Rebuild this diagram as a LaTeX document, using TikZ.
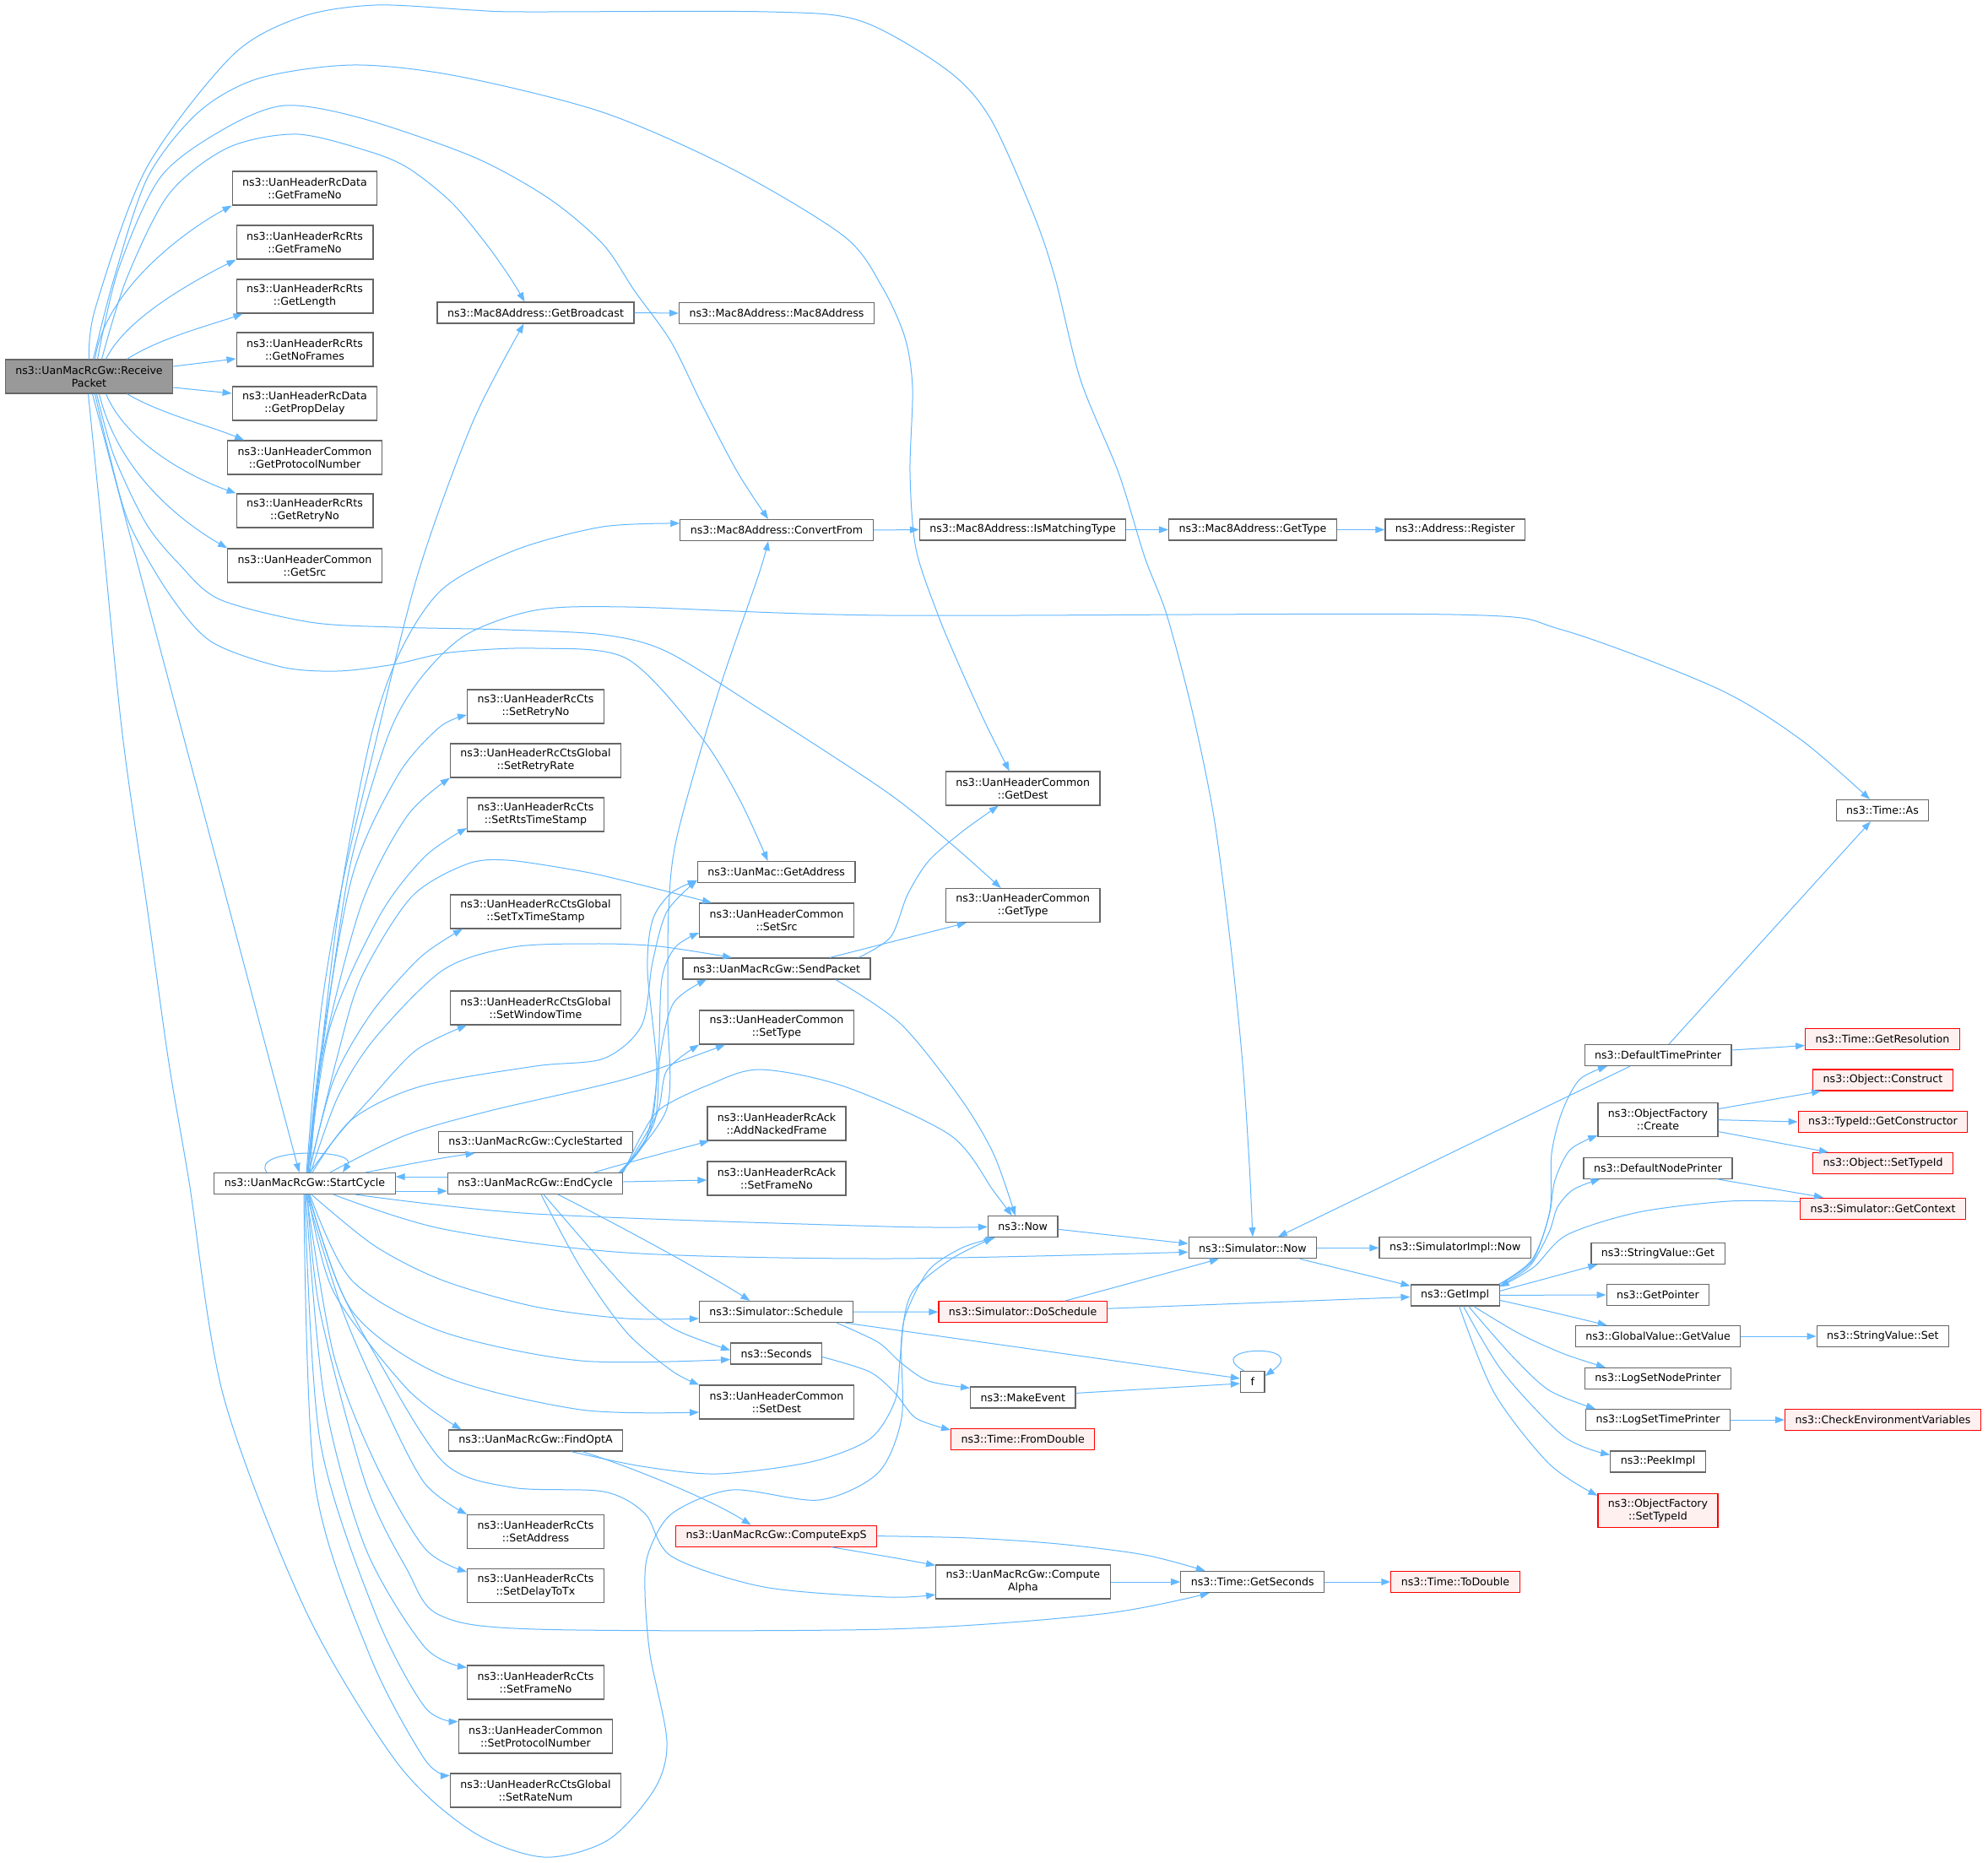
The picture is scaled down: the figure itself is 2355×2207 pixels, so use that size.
\documentclass[tikz,border=0pt]{standalone}
\usepackage{fontspec}
\setmainfont{DejaVu Sans}
\usetikzlibrary{arrows.meta}
\definecolor{edgeblue}{HTML}{63B8FF}
\definecolor{boxgrey}{HTML}{666666}
\definecolor{rootgrey}{HTML}{999999}
\definecolor{missfill}{HTML}{FFF0F0}

\begin{document}
\begin{tikzpicture}[x=1pt, y=-1pt,
    fn/.style={draw=boxgrey, line width=1.2pt, fill=white, inner xsep=12pt, inner ysep=0pt,
      minimum height=25pt, align=center, font=\fontsize{12.6}{15}\selectfont},
    fn2/.style={fn, minimum height=40pt},
    miss/.style={draw=red, fill=missfill},
    root/.style={fn2, fill=rootgrey},
    edge/.style={draw=edgeblue, line width=1pt, -{Triangle[length=11pt, width=8pt]}}]
\fill[white] (0,0) rectangle (2355,2207);
\path[use as bounding box] (0,0) rectangle (2355,2207);

\node[root] (recv) at (105.5,446) {ns3::UanMacRcGw::Receive\\Packet};
\node[fn2] (dfn) at (361,223) {ns3::UanHeaderRcData\\::GetFrameNo};
\node[fn2] (rfn) at (361,287) {ns3::UanHeaderRcRts\\::GetFrameNo};
\node[fn2] (rlen) at (361,351) {ns3::UanHeaderRcRts\\::GetLength};
\node[fn2] (rnof) at (361,414) {ns3::UanHeaderRcRts\\::GetNoFrames};
\node[fn2] (dpd) at (361,478) {ns3::UanHeaderRcData\\::GetPropDelay};
\node[fn2] (cpn) at (361,542) {ns3::UanHeaderCommon\\::GetProtocolNumber};
\node[fn2] (rrn) at (361,605) {ns3::UanHeaderRcRts\\::GetRetryNo};
\node[fn2] (csrc) at (361,670) {ns3::UanHeaderCommon\\::GetSrc};
\node[fn] (bcast) at (634.5,370.5) {ns3::Mac8Address::GetBroadcast};
\node[fn] (m8) at (920,371) {ns3::Mac8Address::Mac8Address};
\node[fn] (conv) at (920,628) {ns3::Mac8Address::ConvertFrom};
\node[fn] (match) at (1211.6,627.5) {ns3::Mac8Address::IsMatchingType};
\node[fn] (gtype) at (1483.9,627.5) {ns3::Mac8Address::GetType};
\node[fn] (reg) at (1723.7,627.5) {ns3::Address::Register};
\node[fn2] (gdest) at (1211.7,934) {ns3::UanHeaderCommon\\::GetDest};
\node[fn2] (gtyp) at (1211.7,1072.6) {ns3::UanHeaderCommon\\::GetType};
\node[fn] (tas) at (2230,960) {ns3::Time::As};
\node[fn2] (srn) at (634.5,837) {ns3::UanHeaderRcCts\\::SetRetryNo};
\node[fn2] (srr) at (634.5,901) {ns3::UanHeaderRcCtsGlobal\\::SetRetryRate};
\node[fn2] (srts) at (634.5,965) {ns3::UanHeaderRcCts\\::SetRtsTimeStamp};
\node[fn2] (stx) at (634.5,1080) {ns3::UanHeaderRcCtsGlobal\\::SetTxTimeStamp};
\node[fn2] (swin) at (634.5,1194) {ns3::UanHeaderRcCtsGlobal\\::SetWindowTime};
\node[fn] (started) at (634.5,1353) {ns3::UanMacRcGw::CycleStarted};
\node[fn] (start) at (361,1402) {ns3::UanMacRcGw::StartCycle};
\node[fn] (endc) at (634,1402) {ns3::UanMacRcGw::EndCycle};
\node[fn] (gaddr) at (919.6,1033) {ns3::UanMac::GetAddress};
\node[fn2] (ssrc) at (920,1090) {ns3::UanHeaderCommon\\::SetSrc};
\node[fn] (send) at (920,1147.5) {ns3::UanMacRcGw::SendPacket};
\node[fn2] (styp) at (920,1217) {ns3::UanHeaderCommon\\::SetType};
\node[fn2] (nack) at (920,1331) {ns3::UanHeaderRcAck\\::AddNackedFrame};
\node[fn2] (afn) at (920,1396) {ns3::UanHeaderRcAck\\::SetFrameNo};
\node[fn] (sched) at (919.5,1554) {ns3::Simulator::Schedule};
\node[fn] (secs) at (919.6,1603.5) {ns3::Seconds};
\node[fn2] (sdest) at (920,1661) {ns3::UanHeaderCommon\\::SetDest};
\node[fn] (fopt) at (634.5,1706.5) {ns3::UanMacRcGw::FindOptA};
\node[fn, miss] (cexp) at (919.6,1819.6) {ns3::UanMacRcGw::ComputeExpS};
\node[fn2] (saddr) at (634.5,1814.5) {ns3::UanHeaderRcCts\\::SetAddress};
\node[fn2] (sdelay) at (634.5,1878.6) {ns3::UanHeaderRcCts\\::SetDelayToTx};
\node[fn2] (sfn) at (634.5,1993) {ns3::UanHeaderRcCts\\::SetFrameNo};
\node[fn2] (spn) at (634.5,2057) {ns3::UanHeaderCommon\\::SetProtocolNumber};
\node[fn2] (srate) at (634.5,2121) {ns3::UanHeaderRcCtsGlobal\\::SetRateNum};
\node[fn] (now) at (1211.7,1453.3) {ns3::Now};
\node[fn] (snow) at (1483.9,1478.3) {ns3::Simulator::Now};
\node[fn] (inow) at (1723.7,1478.3) {ns3::SimulatorImpl::Now};
\node[fn] (impl) at (1723.6,1534.4) {ns3::GetImpl};
\node[fn, miss] (dosch) at (1211.7,1554.2) {ns3::Simulator::DoSchedule};
\node[fn] (f) at (1483.7,1637) {f};
\node[fn] (mkev) at (1211.8,1655.4) {ns3::MakeEvent};
\node[fn, miss] (fromd) at (1211.7,1705) {ns3::Time::FromDouble};
\node[fn2] (calpha) at (1211.9,1874) {ns3::UanMacRcGw::Compute\\Alpha};
\node[fn] (gsec) at (1483.7,1874) {ns3::Time::GetSeconds};
\node[fn, miss] (todbl) at (1724,1874) {ns3::Time::ToDouble};
\node[fn] (dtp) at (1964,1250) {ns3::DefaultTimePrinter};
\node[fn, miss] (gres) at (2230,1230.6) {ns3::Time::GetResolution};
\node[fn, miss] (cons) at (2230.5,1279.5) {ns3::Object::Construct};
\node[fn2] (ofc) at (1964,1326.6) {ns3::ObjectFactory\\::Create};
\node[fn, miss] (gcons) at (2230.5,1329) {ns3::TypeId::GetConstructor};
\node[fn, miss] (ostid) at (2230.5,1378) {ns3::Object::SetTypeId};
\node[fn] (dnp) at (1964,1383.7) {ns3::DefaultNodePrinter};
\node[fn, miss] (gctx) at (2230.5,1431.6) {ns3::Simulator::GetContext};
\node[fn] (svget) at (1964,1485) {ns3::StringValue::Get};
\node[fn] (gptr) at (1964,1534) {ns3::GetPointer};
\node[fn] (gval) at (1964,1583) {ns3::GlobalValue::GetValue};
\node[fn] (svset) at (2230.4,1583) {ns3::StringValue::Set};
\node[fn] (lsnp) at (1964,1633) {ns3::LogSetNodePrinter};
\node[fn] (lstp) at (1964,1682) {ns3::LogSetTimePrinter};
\node[fn, miss] (cenv) at (2230.5,1682) {ns3::CheckEnvironmentVariables};
\node[fn] (peek) at (1964,1731.5) {ns3::PeekImpl};
\node[fn2, miss] (ofst) at (1964,1789.4) {ns3::ObjectFactory\\::SetTypeId};

\draw[edge] plot[smooth] coordinates {(recv.north) (113,365) (173,200) (275,66) (357,20) (445,6) (560,12) (620,14) (910,14) (1020,25) (1122,83) (1173,140) (1224,253) (1250,330) (1280,450) (1325,560) (1356,660) (1382,728) (1412,841) (1438,968) (1458,1121) (1472,1260) (1480,1380) (snow.north)};
\draw[edge] plot[smooth] coordinates {([xshift=5pt]recv.north) (135,330) (175,210) (235,133) (306,93) (418,77) (541,90) (714,133) (867,200) (1000,280) (1045,340) (1072,400) (1081,460) (1078,560) (1085,650) (1111,728) (1137,790) (1167,856) ([xshift=-16pt]gdest.north)};
\draw[edge] plot[smooth] coordinates {([xshift=10pt]recv.north) (140,320) (190,210) (265,153) (337,125) (428,140) (561,186) (650,235) (714,289) (752,345) (795,405) (832,480) (874,560) ([xshift=-10pt]conv.north)};
\draw[edge] plot[smooth] coordinates {([xshift=15pt]recv.north) (150,330) (200,230) (270,175) (352,159) (439,180) (485,200) (535,240) (576,289) (605,330) ([xshift=-13pt]bcast.north)};
\draw[edge] ([xshift=7pt]recv.north) .. controls (125,340) and (225,270) .. (dfn.south west);
\draw[edge] ([xshift=20pt]recv.north) .. controls (150,375) and (235,330) .. (rfn.south west);
\draw[edge] ([xshift=45pt]recv.north) .. controls (190,400) and (250,385) .. ([xshift=8pt]rlen.south west);
\draw[edge] ([yshift=12pt]recv.east) -- ([yshift=-11pt]rnof.west);
\draw[edge] ([yshift=-13pt]recv.east) -- ([yshift=12pt]dpd.west);
\draw[edge] ([xshift=45pt]recv.south) .. controls (190,490) and (250,505) .. ([xshift=20pt]cpn.north west);
\draw[edge] ([xshift=20pt]recv.south) .. controls (150,525) and (225,565) .. (rrn.north west);
\draw[edge] ([xshift=12pt]recv.south) .. controls (140,560) and (215,618) .. (csrc.north west);
\draw[edge] plot[smooth] coordinates {([xshift=9pt]recv.south) (135,540) (173,620) (212,668) (260,710) (367,737) (467,743) (600,746) (715,752) (790,772) (900,840) (1050,938) (1126,999) ([xshift=-26pt]gtyp.north)};
\draw[edge] plot[smooth] coordinates {([xshift=7pt]recv.south) (130,540) (153,620) (200,703) (250,760) (333,790) (400,795) (467,787) (533,773) (634,768) (742,780) (829,871) (875,945) ([xshift=-10pt]gaddr.north)};
\draw[edge] ([xshift=4pt]recv.south) -- ([xshift=-6.5pt]start.north);
\draw[edge] plot[smooth] coordinates {([xshift=-1pt]recv.south) (120,620) (145,870) (175,1080) (200,1259) (224,1400) (265,1655) (363,1910) (471,2089) (560,2170) (644,2200) (720,2180) (775,2120) (790,2063) (770,1960) (764,1885) (768,1840) (796,1793) (867,1765) (970,1777) (1040,1745) (1068,1680) (1068,1590) (1080,1532) (1126,1492) ([xshift=-35pt]now.south)};
\draw[edge] (bcast.east) -- (m8.west);
\draw[edge] (conv.east) -- (match.west);
\draw[edge] (match.east) -- (gtype.west);
\draw[edge] (gtype.east) -- (reg.west);

\draw[edge] ([xshift=-45pt]start.north) .. controls (295,1360) and (425,1360) .. ([xshift=45pt]start.north);
\draw[edge] plot[smooth] coordinates {([xshift=2pt]start.north) (380,1200) (405,1050) (440,900) (495,680) (560,500) ([xshift=-14pt]bcast.south)};
\draw[edge] plot[smooth] coordinates {([xshift=4pt]start.north) (380,1250) (405,1050) (440,870) (475,770) (525,697) (612,651) (714,624) ([yshift=8pt]conv.west)};
\draw[edge] plot[smooth] coordinates {([xshift=6pt]start.north) (375,1300) (395,1150) (417,1015) (460,871) (498,804) (552,752) (634,723) (742,719) (1050,729) (1720,728) (1850,746) (2033,815) (2133,876) ([xshift=-15pt]tas.north)};
\draw[edge] plot[smooth] coordinates {([xshift=3pt]start.north) (379,1254) (417,1039) (471,919) (520,862) ([yshift=-10pt]srn.west)};
\draw[edge] plot[smooth] coordinates {([xshift=3pt]start.north) (382,1250) (428,1072) (482,967) (srr.south west)};
\draw[edge] plot[smooth] coordinates {([xshift=4pt]start.north) (390,1220) (449,1086) (503,1015) ([yshift=-16pt]srts.west)};
\draw[edge] plot[smooth] coordinates {([xshift=5pt]start.north) (395,1280) (440,1200) (498,1134) ([xshift=15pt]stx.south west)};
\draw[edge] plot[smooth] coordinates {([xshift=6pt]start.north) (400,1345) (440,1300) (493,1244) ([xshift=20pt]swin.south west)};
\draw[edge] ([xshift=72pt]start.north) .. controls (480,1380) and (520,1372) .. ([xshift=-72pt]started.south);
\draw[edge] plot[smooth] coordinates {([xshift=5pt]start.north) (400,1250) (428,1158) (487,1063) (552,1024) (601,1019) (688,1032) (742,1044) ([xshift=-77pt]ssrc.north)};
\draw[edge] plot[smooth] coordinates {([xshift=7pt]start.north) (400,1300) (444,1230) (525,1149) (607,1122) (704,1118) (780,1121) ([xshift=-53pt]send.north)};
\draw[edge] plot[smooth] coordinates {([xshift=9pt]start.north) (417,1326) (498,1287) (634,1263) (715,1254) (760,1215) (773,1140) (790,1080) ([yshift=-10pt]gaddr.west)};
\draw[edge] plot[smooth] coordinates {([xshift=30pt]start.north) (480,1345) (580,1316) (742,1278) ([xshift=-61pt]styp.south)};
\draw[edge] ([yshift=-9pt]start.east) -- ([yshift=-9pt]endc.west);
\draw[edge] ([yshift=8pt]endc.west) -- ([yshift=8pt]start.east);
\draw[edge] plot[smooth] coordinates {([xshift=60pt]start.south) (634,1438) (1050,1453) (now.west)};
\draw[edge] plot[smooth] coordinates {([xshift=34pt]start.south) (525,1456) (742,1484) (1050,1491) ([yshift=-5pt]snow.west)};
\draw[edge] plot[smooth] coordinates {([xshift=8pt]start.south) (444,1476) (525,1517) (634,1548) (742,1562) ([yshift=-8pt]sched.west)};
\draw[edge] plot[smooth] coordinates {([xshift=6pt]start.south) (417,1517) (525,1578) (688,1612) ([yshift=-7pt]secs.west)};
\draw[edge] plot[smooth] coordinates {([xshift=5pt]start.south) (417,1553) (525,1630) (688,1670) ([yshift=-12pt]sdest.west)};
\draw[edge] plot[smooth] coordinates {([xshift=4pt]start.south) (395,1530) (482,1645) ([xshift=-88pt]fopt.north)};
\draw[edge] plot[smooth] coordinates {([xshift=2pt]start.south) (406,1553) (455,1665) (503,1757) (saddr.north west)};
\draw[edge] plot[smooth] coordinates {([xshift=2pt]start.south) (395,1604) (444,1732) (503,1834) ([yshift=-4pt]sdelay.north west)};
\draw[edge] plot[smooth] coordinates {([xshift=1pt]start.south) (384,1655) (433,1834) (503,1951) ([yshift=-3pt]sfn.north west)};
\draw[edge] plot[smooth] coordinates {(start.south) (379,1706) (444,1910) (503,2022) ([yshift=-3pt]spn.north west)};
\draw[edge] plot[smooth] coordinates {([xshift=-1pt]start.south) (373,1757) (438,1961) (503,2084) ([yshift=-3pt]srate.north west)};
\draw[edge] plot[smooth] coordinates {([xshift=3pt]start.south) (379,1553) (433,1757) (482,1859) (520,1913) (634,1930) (1050,1930) (1305,1912) ([xshift=-51pt]gsec.south)};
\draw[edge] plot[smooth] coordinates {([xshift=4pt]start.south) (400,1520) (444,1604) (525,1732) (606,1762) (715,1767) (764,1793) (796,1844) (905,1880) (1050,1892) ([yshift=-15pt]calpha.west)};

\draw[edge] ([xshift=70pt]endc.north) .. controls (740,1378) and (790,1365) .. ([xshift=-80pt]nack.south);
\draw[edge] ([yshift=2pt]endc.east) -- ([yshift=-2pt]afn.west);
\draw[edge] plot[smooth] coordinates {([xshift=-5pt]endc.north east) (790,1313) (791,1200) (792,1080) (802,991) (850,823) (899,680) ([xshift=-10pt]conv.south)};
\draw[edge] plot[smooth] coordinates {([xshift=-4pt]endc.north east) (765,1350) (778,1270) (767,1150) (773,1090) (795,1058) ([yshift=-10pt]gaddr.west)};
\draw[edge] plot[smooth] coordinates {([xshift=-3pt]endc.north east) (770,1340) (780,1250) (784,1160) (800,1122) ([yshift=-15pt]ssrc.west)};
\draw[edge] plot[smooth] coordinates {([xshift=-2pt]endc.north east) (775,1330) (782,1250) (798,1188) ([xshift=-83pt]send.south)};
\draw[edge] plot[smooth] coordinates {([xshift=-1pt]endc.north east) (778,1320) (790,1268) (styp.south west)};
\draw[edge] plot[smooth] coordinates {(endc.north east) (760,1345) (783,1313) (840,1285) (900,1267) (1000,1287) (1126,1345) (1177,1411) ([xshift=-13pt]now.north)};
\draw[edge] ([xshift=27pt]endc.south) .. controls (740,1455) and (840,1510) .. ([xshift=-31pt]sched.north);
\draw[edge] plot[smooth] coordinates {([xshift=10pt]endc.south) (742,1527) (796,1573) ([yshift=4pt]secs.west)};
\draw[edge] plot[smooth] coordinates {([xshift=7pt]endc.south) (688,1502) (742,1578) (796,1624) (sdest.north west)};

\draw[edge] plot[smooth] coordinates {([xshift=97pt]send.north) (1055,1110) (1075,1060) (1100,1020) (1140,985) ([xshift=-29pt]gdest.south)};
\draw[edge] ([xshift=63pt]send.north) -- ([xshift=-67pt]gtyp.south);
\draw[edge] plot[smooth] coordinates {([xshift=70pt]send.south) (1067,1213) (1137,1300) (1177,1367) ([xshift=-9pt]now.north)};

\draw[edge] plot[smooth] coordinates {([xshift=42pt]fopt.south) (760,1737) (850,1746) (960,1732) (1030,1705) (1060,1660) (1066,1612) (1072,1560) (1100,1505) (1140,1478) ([xshift=-33pt]now.south)};
\draw[edge] ([xshift=55pt]fopt.south) .. controls (740,1735) and (840,1775) .. ([xshift=-30pt]cexp.north);
\draw[edge] ([xshift=65pt]cexp.south) .. controls (1040,1842) and (1075,1848) .. ([yshift=-1pt]calpha.north west);
\draw[edge] plot[smooth] coordinates {(cexp.east) (1150,1822) (1254,1829) (1356,1842) ([xshift=-56pt]gsec.north)};
\draw[edge] (calpha.east) -- (gsec.west);
\draw[edge] (gsec.east) -- (todbl.west);

\draw[edge] (sched.east) -- (dosch.west);
\draw[edge] ([xshift=-10pt]sched.south east) -- ([yshift=4pt]f.west);
\draw[edge] plot[smooth] coordinates {([xshift=-20pt]sched.south east) (1040,1590) (1068,1615) (1100,1636) ([yshift=-2pt]mkev.north west)};
\draw[edge] plot[smooth] coordinates {([yshift=-4pt]secs.east) (1030,1625) (1060,1650) (1085,1680) ([yshift=-2pt]fromd.north west)};
\draw[edge] ([yshift=5pt]mkev.east) -- ([yshift=-2pt]f.west);
\draw[edge] ([xshift=-10pt]f.north) .. controls (1420,1595) and (1555,1590) .. ([yshift=7pt]f.east);
\draw[edge] ([xshift=50pt]dosch.north) -- ([xshift=-40pt]snow.south);
\draw[edge] ([yshift=4pt]dosch.east) -- ([yshift=-2pt]impl.west);
\draw[edge] ([yshift=-3pt]now.east) -- ([yshift=5pt]snow.west);
\draw[edge] (snow.east) -- (inow.west);
\draw[edge] ([xshift=56pt]snow.south) -- ([yshift=-2pt]impl.north west);

\draw[edge] plot[smooth] coordinates {([xshift=-1pt]impl.north east) (1815,1492) (1836,1434) (1838,1367) (1850,1318) (1871,1279) ([xshift=-60pt]dtp.south)};
\draw[edge] plot[smooth] coordinates {(impl.north east) (1815,1494) (1835,1440) (1842,1398) (1860,1362) ([yshift=2pt]ofc.south west)};
\draw[edge] plot[smooth] coordinates {([yshift=-2pt]impl.north east) (1812,1500) (1835,1460) (1845,1430) (1864,1409) ([xshift=20pt]dnp.south west)};
\draw[edge] plot[smooth] coordinates {([yshift=8pt]gctx.west) (2048,1423) (1941,1436) (1856,1463) (1817,1501) ([yshift=-3pt]impl.north east)};
\draw[edge] ([yshift=5pt]impl.east) -- ([xshift=8pt]svget.south west);
\draw[edge] (impl.east) -- (gptr.west);
\draw[edge] ([yshift=-6pt]impl.east) .. controls (1830,1552) and (1870,1562) .. ([xshift=38pt]gval.north west);
\draw[edge] plot[smooth] coordinates {([xshift=22pt]impl.south) (1800,1580) (1853,1604) ([xshift=25pt]lsnp.north west)};
\draw[edge] plot[smooth] coordinates {([xshift=16pt]impl.south) (1790,1605) (1835,1647) ([xshift=12pt]lstp.north west)};
\draw[edge] plot[smooth] coordinates {([xshift=10pt]impl.south) (1780,1625) (1853,1702) ([yshift=-5pt]peek.north west)};
\draw[edge] plot[smooth] coordinates {([xshift=5pt]impl.south) (1770,1650) (1835,1734) ([yshift=-3pt]ofst.north west)};

\draw[edge] ([xshift=-33pt]dtp.south) -- ([xshift=30pt]snow.north);
\draw[edge] ([xshift=13pt]dtp.north) -- ([xshift=-14pt]tas.south);
\draw[edge] ([yshift=6pt]dtp.east) -- ([yshift=-8pt]gres.west);
\draw[edge] ([yshift=13pt]ofc.east) -- ([xshift=10pt]cons.south west);
\draw[edge] (ofc.east) -- (gcons.west);
\draw[edge] ([yshift=-14pt]ofc.east) -- ([xshift=19pt]ostid.north west);
\draw[edge] ([xshift=70pt]dnp.south) -- ([xshift=28pt]gctx.north west);
\draw[edge] (gval.east) -- (svset.west);
\draw[edge] (lstp.east) -- (cenv.west);
\end{tikzpicture}
\end{document}
